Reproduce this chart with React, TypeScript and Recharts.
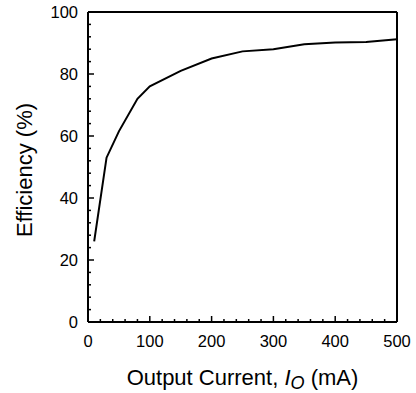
import React from 'react'
import { LineChart, Line, XAxis, YAxis, ReferenceLine } from 'recharts'

const current = [10, 30, 50, 80, 100, 150, 200, 250, 300, 350, 400, 450, 500]
const efficiency = [26, 53, 61.5, 72, 76, 81, 85, 87.3, 88, 89.6, 90.2, 90.3, 91.2]

const xTicks = Array.from({ length: 26 }, (_, i) => i * 20)
const yTicks = Array.from({ length: 26 }, (_, i) => i * 4)

const data = current.map((c, i) => ({ current: c, efficiency: efficiency[i] }))

const FONT = '"Liberation Sans", Arial, sans-serif'

function XTick(props: any) {
  const { x, y, payload } = props
  const major = payload.value % 100 === 0
  return (
    <g>
      <line x1={x} x2={x} y1={y} y2={y - (major ? 6 : 3)} stroke="#000" strokeWidth={1.5} />
      {major && (
        <text x={x} y={y + 25} textAnchor="middle" fontSize={16.5} fontFamily={FONT} fill="#000">
          {payload.value}
        </text>
      )}
    </g>
  )
}

function YTick(props: any) {
  const { x, y, payload } = props
  const major = payload.value % 20 === 0
  return (
    <g>
      <line x1={x} x2={x + (major ? 6 : 3)} y1={y} y2={y} stroke="#000" strokeWidth={1.5} />
      {major && (
        <text x={x - 10} y={y + 6} textAnchor="end" fontSize={16.5} fontFamily={FONT} fill="#000">
          {payload.value}
        </text>
      )}
    </g>
  )
}

function XLabel(props: any) {
  const { viewBox } = props
  const cx = viewBox.x + viewBox.width / 2
  return (
    <text x={cx} y={viewBox.y + 63} textAnchor="middle" fontSize={22} fontFamily={FONT} fill="#000">
      Output Current, <tspan fontStyle="italic">I</tspan>
      <tspan fontStyle="italic" fontSize={18} dy={4}>O</tspan>
      <tspan dy={-4}> (mA)</tspan>
    </text>
  )
}

function YLabel(props: any) {
  const { viewBox } = props
  const cy = viewBox.y + viewBox.height / 2 + 3
  const tx = 32
  return (
    <text
      x={tx}
      y={cy}
      transform={`rotate(-90, ${tx}, ${cy})`}
      textAnchor="middle"
      fontSize={22}
      fontFamily={FONT}
      fill="#000"
    >
      Efficiency (%)
    </text>
  )
}

export default function App() {
  return (
    <div style={{ position: 'absolute', left: 0, top: 0, width: 416, height: 393, background: '#fff' }}>
      <LineChart width={416} height={393} data={data} margin={{ top: 12, right: 19, left: 48, bottom: 31 }}>
        <XAxis
          type="number"
          dataKey="current"
          domain={[0, 500]}
          ticks={xTicks}
          interval={0}
          tickSize={0}
          tickMargin={0}
          height={40}
          tickLine={false}
          axisLine={{ stroke: '#000', strokeWidth: 2 }}
          tick={<XTick />}
          label={<XLabel />}
        />
        <YAxis
          type="number"
          domain={[0, 100]}
          ticks={yTicks}
          interval={0}
          tickSize={0}
          tickMargin={0}
          width={40}
          tickLine={false}
          axisLine={{ stroke: '#000', strokeWidth: 2 }}
          tick={<YTick />}
          label={<YLabel />}
        />
        <ReferenceLine y={100} stroke="#000" strokeWidth={2} />
        <ReferenceLine x={500} stroke="#000" strokeWidth={2} />
        <Line
          type="linear"
          dataKey="efficiency"
          stroke="#000"
          strokeWidth={2}
          dot={false}
          isAnimationActive={false}
        />
      </LineChart>
    </div>
  )
}
